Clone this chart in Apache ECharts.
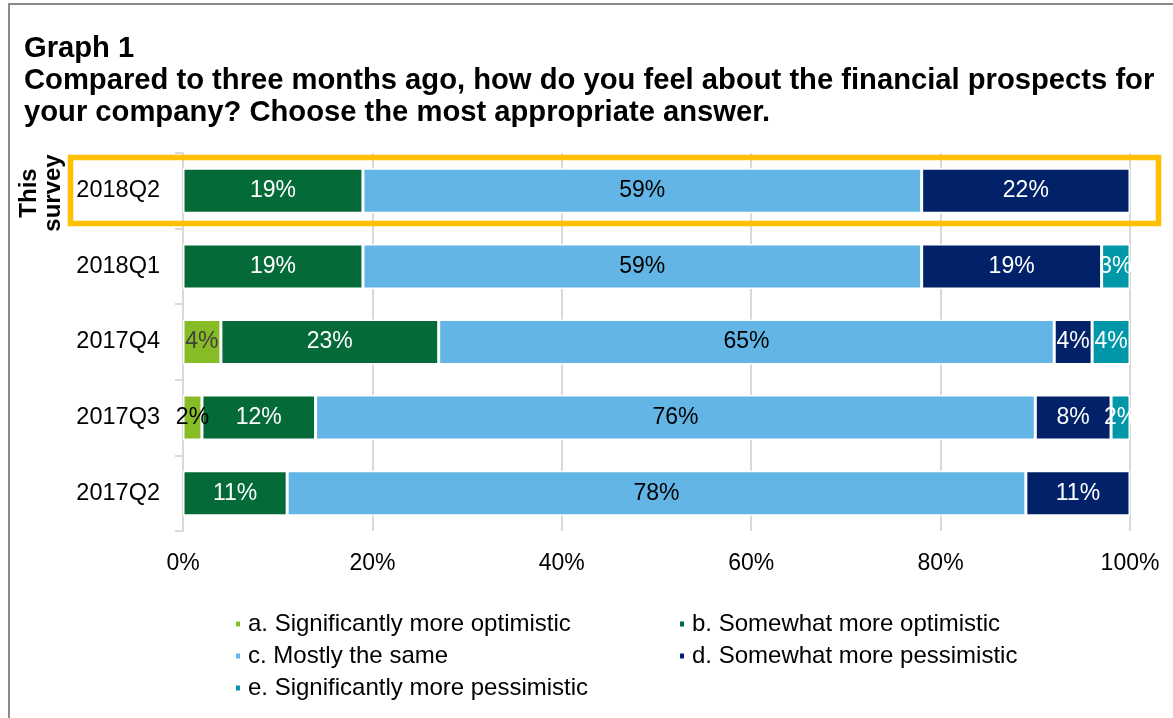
<!DOCTYPE html>
<html>
<head>
<meta charset="utf-8">
<script src="https://cdn.jsdelivr.net/npm/echarts@6/dist/echarts.min.js"></script>
<style>
  html, body { margin: 0; padding: 0; background: #fff; }
  #chart { width: 1173px; height: 718px; }
</style>
</head>
<body>
<div id="chart"></div>
<script>
// Survey quarters, top to bottom
const quarters = ['2018Q2', '2018Q1', '2017Q4', '2017Q3', '2017Q2'];

// Share of answers (%) per quarter
const sigOptimistic = ['-', '-', 4, 2, '-'];
const someOptimistic = [19, 19, 23, 12, 11];
const mostlySame = [59, 59, 65, 76, 78];
const somePessimistic = [22, 19, 4, 8, 11];
const sigPessimistic = ['-', 3, 4, 2, '-'];

const answerNames = [
  'a. Significantly more optimistic',
  'b. Somewhat more optimistic',
  'c. Mostly the same',
  'd. Somewhat more pessimistic',
  'e. Significantly more pessimistic'
];

const xTicks = [0, 20, 40, 60, 80, 100];

const FONT = '"Liberation Sans", Arial, sans-serif';
const colors = ['#86BC25', '#046A38', '#62B5E5', '#012169', '#0097A9'];

// label colour for each segment (dark text on the light segments)
const labelColors = [
  ['#fff', '#fff', '#404040', '#000', '#fff'],
  ['#fff', '#fff', '#fff', '#fff', '#fff'],
  ['#000', '#000', '#000', '#000', '#000'],
  ['#fff', '#fff', '#fff', '#fff', '#fff'],
  ['#fff', '#fff', '#fff', '#fff', '#fff']
];

const seriesValues = [sigOptimistic, someOptimistic, mostlySame, somePessimistic, sigPessimistic];

const chart = echarts.init(document.getElementById('chart'), null, { renderer: 'canvas' });

const series = seriesValues.map((vals, i) => ({
  name: answerNames[i],
  type: 'bar',
  stack: 'total',
  barWidth: 45,
  itemStyle: { color: colors[i], borderColor: '#fff', borderWidth: 1.5 },
  emphasis: { disabled: true },
  data: vals.map((v, j) => ({
    value: v,
    label: { color: labelColors[i][j] }
  })),
  label: {
    show: true,
    position: 'inside',
    formatter: '{c}%',
    fontFamily: FONT,
    fontSize: 23
  }
}));

// legend placement: two columns, three rows
const legendPos = [
  { left: 229, top: 607 },
  { left: 673, top: 607 },
  { left: 229, top: 639 },
  { left: 673, top: 639 },
  { left: 229, top: 671 }
];

const option = {
  animation: false,
  backgroundColor: '#fff',
  title: {
    text: 'Graph 1\nCompared to three months ago, how do you feel about the financial prospects for\nyour company? Choose the most appropriate answer.',
    left: 19,
    top: 28,
    padding: 5,
    textStyle: {
      fontFamily: FONT,
      fontWeight: 'bold',
      fontSize: 29.2,
      lineHeight: 32,
      color: '#000'
    }
  },
  legend: legendPos.map((p, i) => ({
    data: [answerNames[i]],
    left: p.left,
    top: p.top,
    icon: 'rect',
    itemWidth: 6,
    itemHeight: 7,
    selectedMode: false,
    textStyle: { fontFamily: FONT, fontSize: 24, color: '#000', padding: [0, 0, 0, 2] }
  })),
  grid: { left: 183, right: 43, top: 153, bottom: 187, containLabel: false },
  xAxis: {
    type: 'value',
    min: xTicks[0],
    max: xTicks[xTicks.length - 1],
    interval: xTicks[1] - xTicks[0],
    axisLine: { show: false },
    axisTick: { show: false },
    axisLabel: {
      formatter: '{value}%',
      fontFamily: FONT,
      fontSize: 23,
      color: '#000',
      margin: 21
    },
    splitLine: { show: true, lineStyle: { color: '#d9d9d9', width: 2 } }
  },
  yAxis: {
    type: 'category',
    data: quarters,
    inverse: true,
    axisLine: { show: true, lineStyle: { color: '#d9d9d9', width: 2 } },
    axisTick: { show: true, length: 8, lineStyle: { color: '#d9d9d9', width: 2 } },
    axisLabel: {
      fontFamily: FONT,
      fontSize: 23.5,
      color: '#000',
      margin: 23
    }
  },
  graphic: [
    {
      type: 'rect',
      shape: { x: 9, y: 4, width: 1300, height: 900 },
      style: { fill: 'none', stroke: '#8a8a8a', lineWidth: 2 },
      silent: true
    },
    {
      type: 'rect',
      shape: { x: 70.5, y: 157.5, width: 1088, height: 66 },
      style: { fill: 'none', stroke: '#FFC000', lineWidth: 5.5 },
      z: 100,
      silent: true
    },
    {
      type: 'text',
      x: 41,
      y: 193,
      rotation: Math.PI / 2,
      style: {
        text: 'This\nsurvey',
        fontFamily: FONT,
        fontWeight: 'bold',
        fontSize: 24,
        lineHeight: 24,
        fill: '#000',
        align: 'center',
        verticalAlign: 'middle'
      },
      silent: true
    }
  ],
  series: series
};

chart.setOption(option);
</script>
</body>
</html>
